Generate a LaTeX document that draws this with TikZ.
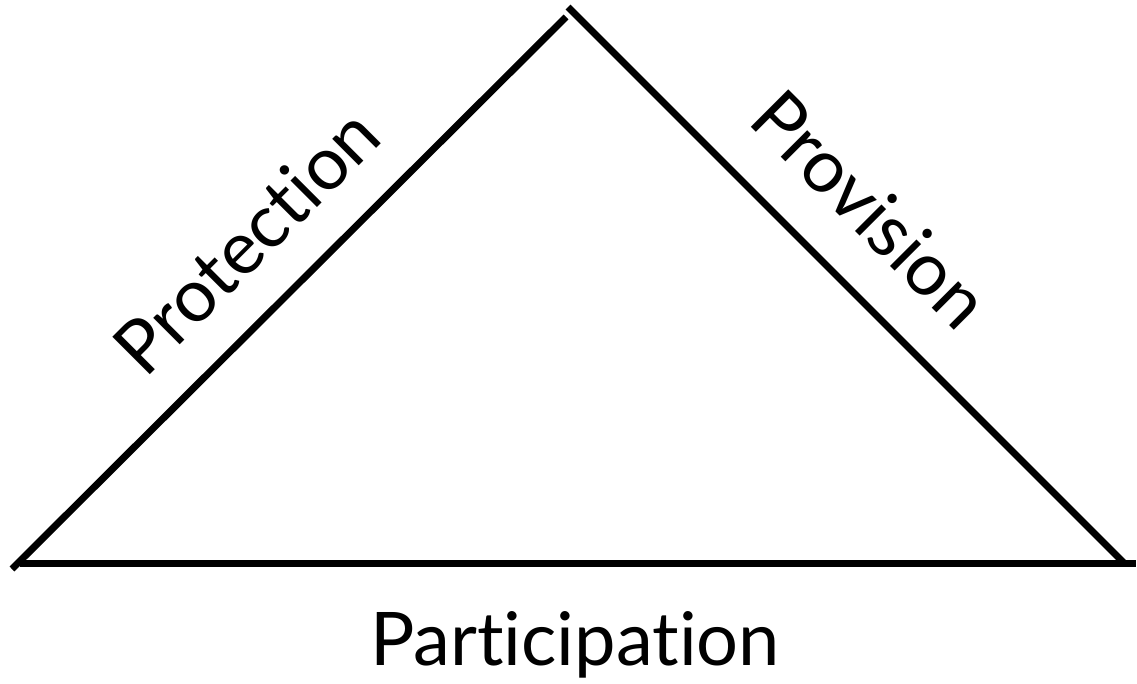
\documentclass[tikz,border=0pt]{standalone}
\usepackage{fontspec}
\setmainfont[Ligatures={NoCommon,NoDiscretionary}]{Lato}
\begin{document}
\begin{tikzpicture}[x=1pt,y=-1pt,
  side/.style={line width=7pt,line cap=butt,black},
  lbl/.style={inner sep=0pt,anchor=base,font=\fontsize{74}{80}\selectfont}]
\useasboundingbox (0,0) rectangle (1137,684);
\coordinate (lb) at (12,569);
\coordinate (lt) at (566,17);
\coordinate (rt) at (568,7);
\coordinate (rb) at (1125,564);
\coordinate (bl) at (20,563);
\coordinate (br) at (1136,563);
\draw[side] (lb) -- (lt);
\draw[side] (rt) -- (rb);
\draw[side] (bl) -- (br);
\node[lbl,rotate=45] (prot) at (265,260) {Protection};
\node[lbl,rotate=-45] (prov) at (852,228) {Provision};
\node[lbl] (part) at (575,665) {Participation};
\end{tikzpicture}
\end{document}
